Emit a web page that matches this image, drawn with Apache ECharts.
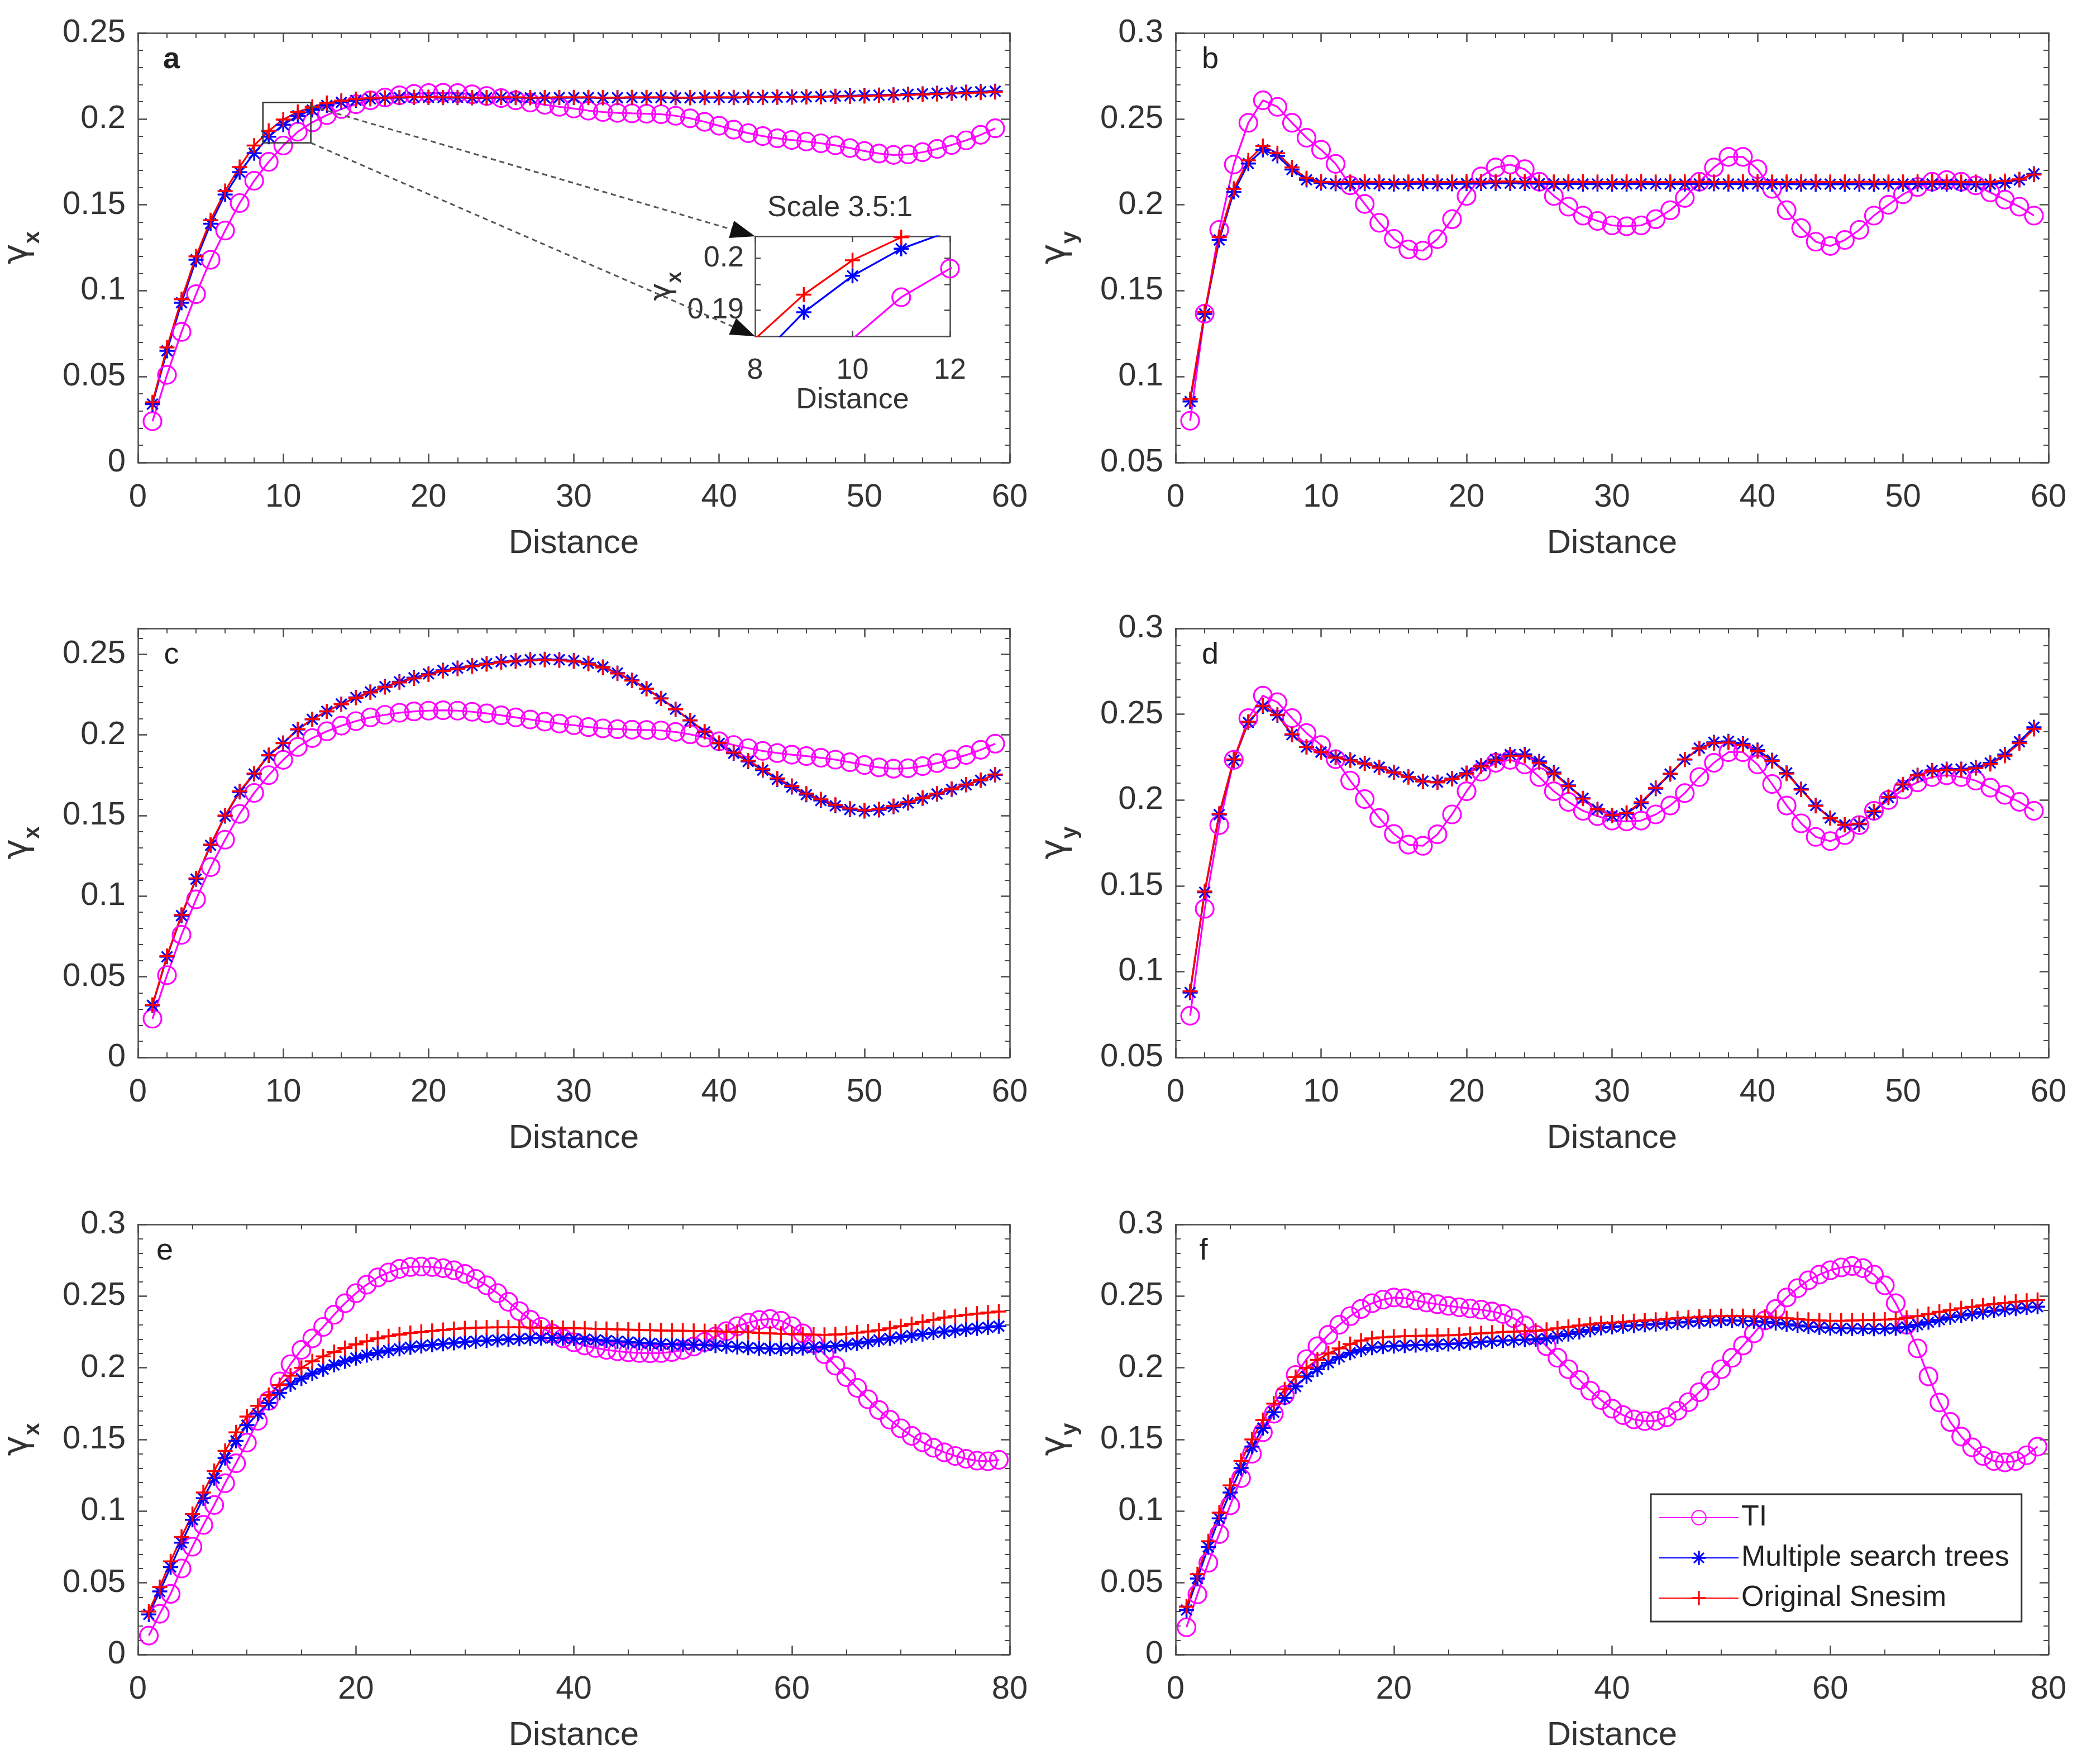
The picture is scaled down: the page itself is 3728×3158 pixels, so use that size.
<!DOCTYPE html>
<html><head><meta charset="utf-8">
<script src="https://cdn.jsdelivr.net/npm/echarts/dist/echarts.min.js"></script>
<style>html,body{margin:0;padding:0;background:#fff}#c{width:3728px;height:3158px}</style>
</head><body><div id="c"></div>
<script>
// ---------------- data ----------------
const lags60 = [1,2,3,4,5,6,7,8,9,10,11,12,13,14,15,16,17,18,19,20,21,22,23,24,25,26,27,28,29,30,31,32,33,34,35,36,37,38,39,40,41,42,43,44,45,46,47,48,49,50,51,52,53,54,55,56,57,58,59];
const lags80 = [1,2,3,4,5,6,7,8,9,10,11,12,13,14,15,16,17,18,19,20,21,22,23,24,25,26,27,28,29,30,31,32,33,34,35,36,37,38,39,40,41,42,43,44,45,46,47,48,49,50,51,52,53,54,55,56,57,58,59,60,61,62,63,64,65,66,67,68,69,70,71,72,73,74,75,76,77,78,79];
const seriesNames = ['TI', 'Multiple search trees', 'Original Snesim'];

// TI variogram, x direction (panels a, c)
const tiX = [0.024,0.051,0.076,0.098,0.118,0.135,0.151,0.164,0.175,0.1845,
  0.1925,0.198,0.2022,0.2057,0.2085,0.2108,0.2124,0.2137,0.2145,0.215,
  0.2152,0.215,0.2143,0.2133,0.2121,0.2108,0.2095,0.2082,0.207,0.206,
  0.2048,0.204,0.2035,0.2032,0.203,0.2027,0.2018,0.2003,0.1983,0.196,
  0.1937,0.1917,0.19,0.1887,0.1877,0.1868,0.1858,0.1846,0.183,0.1813,
  0.1798,0.179,0.1793,0.1806,0.1825,0.1848,0.1875,0.1907,0.1945];
// TI variogram, y direction (panels b, d)
const tiY = [0.0743,0.1366,0.1854,0.2234,0.2477,0.2608,0.257,0.2477,0.239,0.232,
  0.2238,0.2113,0.2005,0.1895,0.1802,0.174,0.1733,0.18,0.1916,0.2051,
  0.2165,0.2217,0.2234,0.2207,0.2134,0.2051,0.1989,0.1937,0.1906,0.188,
  0.1875,0.188,0.1916,0.1968,0.204,0.2134,0.2217,0.2279,0.2279,0.2207,
  0.2093,0.1968,0.1864,0.1785,0.176,0.1795,0.1854,0.1937,0.2,0.2061,
  0.2103,0.2134,0.2144,0.2134,0.2113,0.2072,0.203,0.1989,0.1937];
// panel a
const mstA = [0.034,0.065,0.093,0.118,0.139,0.156,0.169,0.18,0.1896,0.1966,
  0.2018,0.2052,0.2078,0.2096,0.2108,0.2116,0.2121,0.2124,0.2125,0.2125,
  0.2124,0.2124,0.2123,0.2123,0.2124,0.2124,0.2123,0.2123,0.2124,0.2124,
  0.2124,0.2123,0.2123,0.2124,0.2124,0.2124,0.2123,0.2123,0.2124,0.2124,
  0.2124,0.2125,0.2125,0.2126,0.2127,0.2128,0.213,0.2132,0.2134,0.2136,
  0.2138,0.214,0.2143,0.2146,0.2149,0.2152,0.2155,0.2158,0.2161];
const snesimA = [0.035,0.067,0.095,0.12,0.141,0.158,0.172,0.1845,0.193,0.1996,
  0.204,0.207,0.2092,0.2106,0.2115,0.212,0.2123,0.2125,0.2126,0.2126,
  0.2125,0.2125,0.2124,0.2124,0.2125,0.2125,0.2124,0.2124,0.2125,0.2125,
  0.2125,0.2124,0.2124,0.2125,0.2125,0.2125,0.2124,0.2124,0.2125,0.2125,
  0.2125,0.2125,0.2125,0.2126,0.2126,0.2127,0.2128,0.213,0.2131,0.2133,
  0.2135,0.2137,0.214,0.2142,0.2145,0.2148,0.215,0.2153,0.2156];
// panel b
const mstB = [0.0855,0.1365,0.1795,0.2075,0.224,0.232,0.2285,0.2205,0.2145,0.2126,
  0.2122,0.2122,0.2123,0.2122,0.2121,0.2122,0.2123,0.2122,0.2122,0.2123,
  0.2124,0.2125,0.2125,0.2124,0.2123,0.2122,0.2122,0.2121,0.2121,0.2121,
  0.2121,0.2122,0.2122,0.2121,0.2121,0.2122,0.2122,0.2121,0.2121,0.2121,
  0.2121,0.2121,0.212,0.212,0.212,0.212,0.212,0.212,0.2121,0.2121,
  0.2121,0.2121,0.212,0.2119,0.2118,0.212,0.2128,0.2145,0.218];
const snesimB = [0.0868,0.1376,0.1812,0.2093,0.2259,0.2342,0.23,0.2217,0.2155,0.2134,
  0.2132,0.2133,0.2134,0.2133,0.2132,0.2133,0.2134,0.2133,0.2133,0.2134,
  0.2134,0.2135,0.2135,0.2134,0.2133,0.2133,0.2134,0.2134,0.2133,0.2133,
  0.2134,0.2134,0.2133,0.2133,0.2134,0.2134,0.2133,0.2133,0.2134,0.2134,
  0.2133,0.2133,0.2134,0.2134,0.2133,0.2133,0.2134,0.2134,0.2133,0.2133,
  0.2134,0.2134,0.2133,0.2133,0.2133,0.2134,0.2138,0.2148,0.2176];
// panel c
const mstC = [0.0322,0.0624,0.0879,0.1105,0.1315,0.1496,0.1646,0.1757,0.1872,0.1948,
  0.2033,0.2096,0.2146,0.2191,0.2232,0.2266,0.2299,0.2329,0.2354,0.2378,
  0.24,0.2414,0.2429,0.2442,0.2454,0.246,0.2466,0.2469,0.2466,0.246,
  0.2444,0.2421,0.2383,0.2339,0.2287,0.2226,0.2159,0.2089,0.2018,0.1947,
  0.1886,0.1835,0.1781,0.1724,0.1676,0.1629,0.1593,0.156,0.1537,0.1527,
  0.1534,0.1554,0.1578,0.1606,0.1633,0.1662,0.169,0.1718,0.1752];
const snesimC = [0.0326,0.0629,0.0884,0.111,0.132,0.15,0.165,0.176,0.1875,0.195,
  0.2035,0.2097,0.2146,0.219,0.223,0.2263,0.2296,0.2325,0.235,0.2374,
  0.2396,0.241,0.2425,0.2438,0.245,0.2456,0.2462,0.2465,0.2462,0.2456,
  0.244,0.2418,0.238,0.2336,0.2285,0.2225,0.2159,0.209,0.202,0.195,
  0.189,0.184,0.1787,0.173,0.1683,0.1636,0.16,0.1566,0.1543,0.1532,
  0.1539,0.1559,0.1583,0.161,0.1636,0.1665,0.1692,0.172,0.1754];
// panel d
const mstD = [0.0878,0.1462,0.1915,0.2232,0.2452,0.2545,0.2494,0.2381,0.2309,0.2279,
  0.2248,0.2233,0.2214,0.2191,0.2162,0.2135,0.211,0.2104,0.2125,0.2157,
  0.22,0.2237,0.2265,0.2266,0.2225,0.216,0.2085,0.201,0.1946,0.1908,
  0.192,0.1981,0.2066,0.2151,0.2236,0.2302,0.2336,0.2342,0.2328,0.2291,
  0.2232,0.2158,0.2063,0.1968,0.1895,0.1855,0.1858,0.193,0.2014,0.2089,
  0.2144,0.2172,0.218,0.218,0.219,0.2216,0.2265,0.234,0.2424];
const snesimD = [0.0885,0.1467,0.192,0.2237,0.2456,0.2549,0.2497,0.2383,0.231,0.2279,
  0.2247,0.2231,0.2212,0.2189,0.216,0.2133,0.2108,0.2102,0.2123,0.2154,
  0.2196,0.2231,0.2258,0.2258,0.2217,0.2154,0.2081,0.2008,0.1946,0.1911,
  0.1925,0.1987,0.2071,0.2154,0.2237,0.23,0.2331,0.2335,0.2321,0.2285,
  0.2227,0.2154,0.206,0.1966,0.1894,0.1856,0.1862,0.1935,0.2018,0.2091,
  0.2144,0.2169,0.2175,0.2175,0.2185,0.221,0.2258,0.2331,0.2414];
// panel e
const tiE = [0.0132,0.0284,0.0423,0.06,0.0752,0.0904,0.1043,0.1195,0.1334,0.1478,
  0.163,0.177,0.1905,0.2025,0.2125,0.2205,0.2285,0.237,0.245,0.252,
  0.258,0.263,0.2665,0.269,0.2703,0.2706,0.2703,0.2695,0.268,0.2655,
  0.262,0.2575,0.252,0.246,0.2395,0.2335,0.2285,0.224,0.2205,0.2178,
  0.2155,0.2138,0.2125,0.2115,0.2108,0.2103,0.2101,0.2103,0.211,0.2125,
  0.2148,0.218,0.2218,0.2255,0.229,0.2315,0.2333,0.234,0.2328,0.229,
  0.224,0.217,0.2095,0.2015,0.1935,0.186,0.178,0.1705,0.1638,0.1578,
  0.1525,0.148,0.1442,0.141,0.1385,0.1365,0.1352,0.1348,0.1358];
const mstE = [0.028,0.044,0.061,0.078,0.094,0.109,0.123,0.137,0.149,0.16,
  0.168,0.1755,0.1825,0.1885,0.1925,0.196,0.199,0.202,0.2045,0.2068,
  0.2088,0.2105,0.212,0.2132,0.2143,0.2152,0.216,0.2167,0.2174,0.218,
  0.2185,0.219,0.2194,0.2198,0.2202,0.2205,0.2207,0.2208,0.2207,0.2204,
  0.22,0.2195,0.219,0.2185,0.218,0.2175,0.217,0.2167,0.2164,0.2162,
  0.216,0.2158,0.2155,0.215,0.2145,0.214,0.2136,0.2133,0.2133,0.2135,
  0.2138,0.2142,0.2146,0.2152,0.216,0.217,0.2182,0.2195,0.2205,0.2215,
  0.2225,0.2235,0.2245,0.2253,0.226,0.2268,0.2275,0.2282,0.229];
const snesimE = [0.03,0.047,0.065,0.082,0.098,0.113,0.128,0.142,0.155,0.166,
  0.1735,0.181,0.188,0.1945,0.2,0.2045,0.208,0.211,0.2138,0.2163,
  0.2185,0.2205,0.222,0.2232,0.2242,0.225,0.2257,0.2264,0.227,0.2275,
  0.2279,0.2281,0.2282,0.2282,0.2282,0.2281,0.228,0.2279,0.2277,0.2276,
  0.2274,0.2272,0.227,0.2268,0.2266,0.2264,0.2262,0.226,0.2259,0.2258,
  0.2257,0.2256,0.2254,0.2252,0.225,0.2247,0.2243,0.224,0.2237,0.2235,
  0.2233,0.2231,0.223,0.2232,0.2237,0.2245,0.2253,0.2262,0.2275,0.229,
  0.2305,0.232,0.2335,0.235,0.236,0.237,0.2378,0.2385,0.2392];
// panel f
const tiF = [0.019,0.042,0.064,0.084,0.104,0.123,0.14,0.155,0.168,0.181,
  0.195,0.206,0.215,0.223,0.23,0.236,0.241,0.245,0.2475,0.249,
  0.2485,0.247,0.2455,0.2443,0.2432,0.2422,0.2413,0.2405,0.2393,0.2375,
  0.2345,0.2295,0.223,0.215,0.207,0.199,0.1915,0.184,0.1775,0.1715,
  0.167,0.164,0.1628,0.163,0.1655,0.17,0.176,0.183,0.191,0.199,
  0.207,0.2155,0.224,0.233,0.241,0.249,0.2555,0.261,0.265,0.268,
  0.27,0.271,0.2695,0.265,0.2575,0.245,0.23,0.2135,0.194,0.1758,
  0.1622,0.152,0.1445,0.1385,0.135,0.134,0.135,0.139,0.145];
const mstF = [0.031,0.053,0.075,0.095,0.113,0.13,0.145,0.158,0.169,0.179,
  0.187,0.194,0.199,0.2035,0.2075,0.2105,0.2125,0.214,0.2148,0.2152,
  0.2155,0.2158,0.216,0.2163,0.2166,0.217,0.2175,0.218,0.2185,0.219,
  0.2193,0.2196,0.2198,0.2205,0.222,0.2235,0.225,0.2265,0.2278,0.2285,
  0.229,0.2295,0.23,0.2305,0.231,0.2315,0.232,0.2325,0.2328,0.233,
  0.233,0.2328,0.2325,0.232,0.2312,0.2303,0.2295,0.2288,0.2282,0.2277,
  0.2275,0.2274,0.2273,0.2272,0.2272,0.2275,0.2285,0.23,0.2318,0.2335,
  0.2352,0.2365,0.2377,0.2388,0.2398,0.2406,0.2413,0.242,0.2426];
const snesimF = [0.0334,0.056,0.079,0.099,0.118,0.135,0.15,0.1635,0.175,0.185,
  0.1935,0.2,0.2055,0.21,0.2135,0.2165,0.219,0.2205,0.2212,0.2217,
  0.222,0.2222,0.2224,0.2225,0.2227,0.223,0.2235,0.224,0.2245,0.225,
  0.2252,0.2255,0.2258,0.2265,0.2275,0.2285,0.2295,0.2303,0.231,0.2315,
  0.232,0.2325,0.233,0.2335,0.234,0.2345,0.235,0.2355,0.2358,0.236,
  0.236,0.236,0.2358,0.2355,0.235,0.2345,0.234,0.2335,0.233,0.2328,
  0.2328,0.233,0.2332,0.2334,0.2336,0.234,0.2348,0.236,0.2375,0.239,
  0.2402,0.2415,0.2425,0.2435,0.2445,0.2452,0.246,0.2467,0.2473];
// inset (magnified part of panel a)
const insetX = [8, 12];
const insetY = [0.185, 0.2042];
const zoomBoxX = [8.6, 11.9];
const zoomBoxY = [0.186, 0.2095];

// ---------------- layout / style ----------------
const FONT = 'Liberation Sans, Arial, Helvetica, sans-serif';
const AX = '#4a4a4a';
const TXT = '#333333';
const PLUS = 'path://M-0.65,-5L0.65,-5L0.65,5L-0.65,5Z M-5,-0.65L5,-0.65L5,0.65L-5,0.65Z';
const ASTER = 'path://M-0.65,-5L0.65,-5L0.65,5L-0.65,5Z M-5,-0.65L5,-0.65L5,0.65L-5,0.65Z M-3.1,-3.95L3.95,3.1L3.1,3.95L-3.95,-3.1Z M3.1,-3.95L3.95,-3.1L-3.1,3.95L-3.95,3.1Z';

const panels = [
  {letter:'a', bold:true, grid:{left:245, top:59, width:1563, height:769}, lags:lags60, xMax:60, xInt:10, xMinor:5, yMin:0, yMax:0.25, sub:'x', ti:tiX, mst:mstA, sne:snesimA},
  {letter:'b', grid:{left:2105, top:59, width:1563, height:769}, lags:lags60, xMax:60, xInt:10, xMinor:5, yMin:0.05, yMax:0.3, sub:'y', ti:tiY, mst:mstB, sne:snesimB},
  {letter:'c', grid:{left:245, top:1125, width:1563, height:768}, lags:lags60, xMax:60, xInt:10, xMinor:5, yMin:0, yMax:0.266, hideMax:true, sub:'x', ti:tiX, mst:mstC, sne:snesimC},
  {letter:'d', grid:{left:2105, top:1125, width:1563, height:768}, lags:lags60, xMax:60, xInt:10, xMinor:5, yMin:0.05, yMax:0.3, sub:'y', ti:tiY, mst:mstD, sne:snesimD},
  {letter:'e', grid:{left:245, top:2192, width:1563, height:770}, lags:lags80, xMax:80, xInt:20, xMinor:4, yMin:0, yMax:0.3, sub:'x', ti:tiE, mst:mstE, sne:snesimE},
  {letter:'f', grid:{left:2105, top:2192, width:1563, height:770}, lags:lags80, xMax:80, xInt:20, xMinor:4, yMin:0, yMax:0.3, sub:'y', ti:tiF, mst:mstF, sne:snesimF}
];
const insetGrid = {left:1352, top:423, width:349, height:179};

function pairs(xs, ys){ return xs.map((x,i)=>[x, ys[i]]); }

function axisBase(show, fontSize, margin){
  return {
    axisLine:{show:true, onZero:false, lineStyle:{color:AX, width:2.5}},
    axisTick:{show:true, inside:true, length:16, lineStyle:{color:AX, width:2.5}},
    minorTick:{show:true, length:9, lineStyle:{color:AX, width:2}},
    splitLine:{show:false},
    axisLabel:{show:show, color:TXT, fontSize:fontSize, fontFamily:FONT, margin:margin}
  };
}

function yName(sub, g, s, lh){
  return {
    name:'{g|\u03b3}{s|' + sub + '}',
    nameLocation:'middle', nameRotate:90,
    nameTextStyle:{rich:{
      g:{fontSize:g, fontFamily:'DejaVu Sans', color:TXT, lineHeight:lh, verticalAlign:'top'},
      s:{fontSize:s, fontFamily:FONT, fontWeight:'bold', color:TXT, lineHeight:lh, verticalAlign:'bottom'}
    }}
  };
}

const grids = [], xAxes = [], yAxes = [], series = [];

function addSeries(gi, lags, ti, mst, sne, z){
  const xi = 2*gi, yi = 2*gi;
  series.push({name:seriesNames[0], type:'line', xAxisIndex:xi, yAxisIndex:yi, data:pairs(lags, ti),
    symbol:'circle', symbolSize:32, showAllSymbol:true, clip:true, z:z,
    lineStyle:{color:'#ff00ff', width:3.2}, itemStyle:{color:'rgba(255,0,255,0)', borderColor:'#ff00ff', borderWidth:3.2}});
  series.push({name:seriesNames[1], type:'line', xAxisIndex:xi, yAxisIndex:yi, data:pairs(lags, mst),
    symbol:ASTER, symbolSize:27, showAllSymbol:true, clip:true, z:z,
    lineStyle:{color:'#0000ff', width:3.2}, itemStyle:{color:'#0000ff'}});
  series.push({name:seriesNames[2], type:'line', xAxisIndex:xi, yAxisIndex:yi, data:pairs(lags, sne),
    symbol:PLUS, symbolSize:27, showAllSymbol:true, clip:true, z:z,
    lineStyle:{color:'#ff0000', width:3.2}, itemStyle:{color:'#ff0000'}});
}

panels.forEach((p, i) => {
  grids.push(Object.assign({containLabel:false}, p.grid));
  xAxes.push(Object.assign(axisBase(true, 58, 34), {type:'value', gridIndex:i, position:'bottom', min:0, max:p.xMax, interval:p.xInt,
    name:'Distance', nameLocation:'middle', nameGap:115, nameTextStyle:{fontSize:60, color:TXT, fontFamily:FONT}}));
  xAxes[xAxes.length-1].minorTick.splitNumber = p.xMinor;
  xAxes.push(Object.assign(axisBase(false, 58, 34), {type:'value', gridIndex:i, position:'top', min:0, max:p.xMax, interval:p.xInt}));
  xAxes[xAxes.length-1].minorTick.splitNumber = p.xMinor;
  const yl = Object.assign(axisBase(true, 58, 22), {type:'value', gridIndex:i, position:'left', min:p.yMin, max:p.yMax, interval:0.05, nameGap:168}, yName(p.sub, 62, 40, 78));
  yl.minorTick.splitNumber = 5;
  if (p.hideMax) yl.axisLabel.showMaxLabel = false;
  yAxes.push(yl);
  const yr = Object.assign(axisBase(false, 58, 22), {type:'value', gridIndex:i, position:'right', min:p.yMin, max:p.yMax, interval:0.05});
  yr.minorTick.splitNumber = 5;
  yAxes.push(yr);
  addSeries(i, p.lags, p.ti, p.mst, p.sne, 2);
});

// inset grid (index 6)
grids.push(Object.assign({containLabel:false}, insetGrid));
const ixb = Object.assign(axisBase(true, 52, 36), {type:'value', gridIndex:6, position:'bottom', min:insetX[0], max:insetX[1], interval:2,
  name:'Distance', nameLocation:'middle', nameGap:86, nameTextStyle:{fontSize:52, color:TXT, fontFamily:FONT}});
ixb.axisTick.length = 10; ixb.minorTick.show = false;
xAxes.push(ixb);
const ixt = Object.assign(axisBase(false, 52, 36), {type:'value', gridIndex:6, position:'top', min:insetX[0], max:insetX[1], interval:2});
ixt.axisTick.length = 10; ixt.minorTick.show = false;
xAxes.push(ixt);
const iyl = Object.assign(axisBase(true, 52, 20), {type:'value', gridIndex:6, position:'left', min:insetY[0], max:insetY[1], splitNumber:4, nameGap:108,
  }, yName('x', 54, 36, 68));
iyl.axisTick.length = 10; iyl.minorTick.show = false;
iyl.axisLabel.formatter = function(v){ const r = Math.round(v*100)/100; return Math.abs(v - r) < 1e-9 ? String(r) : ''; };
iyl.axisLabel.showMinLabel = false; iyl.axisLabel.showMaxLabel = false;
yAxes.push(iyl);
const iyr = Object.assign(axisBase(false, 52, 20), {type:'value', gridIndex:6, position:'right', min:insetY[0], max:insetY[1], splitNumber:4});
iyr.axisTick.length = 10; iyr.minorTick.show = false;
yAxes.push(iyr);
addSeries(6, lags60, tiX, mstA, snesimA, 3);

const chart = echarts.init(document.getElementById('c'), null, {renderer:'canvas', width:3728, height:3158});
chart.setOption({
  animation:false,
  backgroundColor:'#ffffff',
  textStyle:{fontFamily:FONT},
  grid:grids, xAxis:xAxes, yAxis:yAxes, series:series,
  legend:{data:seriesNames, orient:'vertical', left:2956, top:2675, itemWidth:142, itemHeight:32, itemGap:20,
    padding:[16,22,16,14], borderColor:'#333', borderWidth:3, backgroundColor:'#ffffff', selectedMode:false, z:10,
    textStyle:{fontSize:52, color:'#222', fontFamily:FONT}}
});

// ---------------- annotations ----------------
const g = [];
panels.forEach((p) => {
  const dx = (p.letter === 'e' || p.letter === 'f') ? 50 : 62;
  g.push({type:'text', z:20, style:{text:p.letter, x:p.grid.left + dx, y:p.grid.top + 48, fontSize:54, fontWeight:p.bold ? 'bold' : 'normal',
    fontFamily:FONT, fill:'#222', align:'center', verticalAlign:'middle'}});
});
const fa = {xAxisIndex:0, yAxisIndex:0};
const fi = {xAxisIndex:12, yAxisIndex:12};
const r1 = chart.convertToPixel(fa, [zoomBoxX[0], zoomBoxY[1]]);
const r2 = chart.convertToPixel(fa, [zoomBoxX[1], zoomBoxY[0]]);
g.push({type:'rect', z:20, shape:{x:r1[0], y:r1[1], width:r2[0]-r1[0], height:r2[1]-r1[1]}, style:{fill:'none', stroke:'#333', lineWidth:2.5}});
const iTop = chart.convertToPixel(fi, [insetX[0], insetY[1]]);
const iBot = chart.convertToPixel(fi, [insetX[0], insetY[0]]);
function connector(from, to){
  const vx = to[0]-from[0], vy = to[1]-from[1];
  const L = Math.sqrt(vx*vx+vy*vy), ux = vx/L, uy = vy/L;
  const AL = 44, AW = 32;
  const bx = to[0]-ux*AL, by = to[1]-uy*AL;
  g.push({type:'line', z:20, shape:{x1:from[0], y1:from[1], x2:bx, y2:by}, style:{stroke:'#555', lineWidth:3, lineDash:[9,7]}});
  g.push({type:'polygon', z:21, shape:{points:[[to[0],to[1]], [bx-uy*AW/2, by+ux*AW/2], [bx+uy*AW/2, by-ux*AW/2]]}, style:{fill:'#111'}});
}
connector([r2[0], r1[1]+6], iTop);
connector([r2[0], r2[1]], iBot);
g.push({type:'text', z:20, style:{text:'Scale 3.5:1', x:insetGrid.left + 22, y:insetGrid.top - 50, fontSize:52, fontFamily:FONT, fill:TXT, align:'left', verticalAlign:'middle'}});
chart.setOption({graphic:g});
</script>
</body></html>
